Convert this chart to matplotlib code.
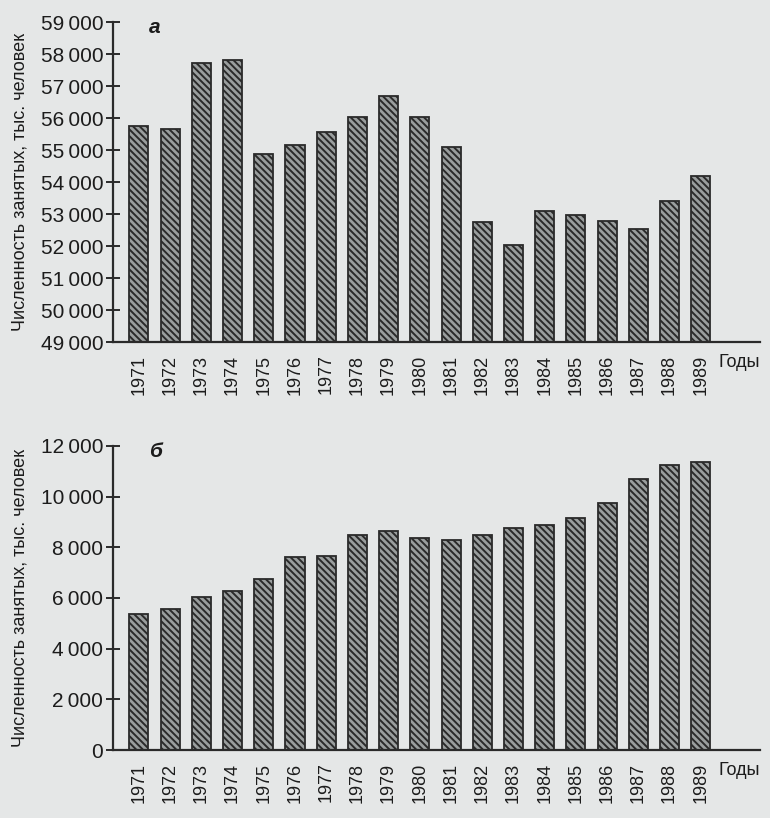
import numpy as np
import matplotlib.pyplot as plt

# data
years = list(range(1971, 1990))
employed_a = [55750, 55650, 57710, 57800, 54880, 55150, 55550, 56020, 56680, 56020,
              55100, 52750, 52040, 53090, 52970, 52770, 52530, 53400, 54180]
employed_b = [5370, 5570, 6040, 6280, 6760, 7610, 7660, 8490, 8650, 8370,
              8290, 8490, 8760, 8880, 9160, 9760, 10700, 11260, 11360]
yticks_a = list(range(49000, 59001, 1000))
yticks_b = list(range(0, 12001, 2000))

ylabel = "Численность занятых, тыс. человек"

plt.rcParams['font.family'] = ['Liberation Sans', 'DejaVu Sans']
plt.rcParams['hatch.linewidth'] = 1.4

bg = '#e5e7e7'
dark = '#2a2a2a'
txt = '#1c1c1c'

fig = plt.figure(figsize=(7.7, 8.18), dpi=100, facecolor=bg)
ax1 = fig.add_axes([0.1468, 0.5819, 0.8402, 0.3912])
ax2 = fig.add_axes([0.1468, 0.0831, 0.8402, 0.3717])


def fmt(v):
    return f"{v:,}".replace(",", "\u2009")


def draw_panel(ax, values, yticks, letter):
    ax.set_facecolor(bg)
    x = np.arange(len(years))
    # bars start at zero, the y limits cut them at the axis
    ax.bar(x, values, width=0.61, color='#9a9e9e', edgecolor=dark,
           linewidth=1.3, hatch='\\\\\\\\\\')
    ax.set_ylim(yticks[0], yticks[-1])
    ax.set_xlim(-0.83, 19.9)
    ax.set_yticks(yticks)
    ax.set_yticklabels([fmt(v) for v in yticks], fontsize=15, color=txt)
    ax.set_xticks(x)
    ax.set_xticklabels([str(y) for y in years], rotation=90, fontsize=13,
                       color=txt)
    ax.tick_params(axis='x', length=0, pad=9)
    ax.tick_params(axis='y', direction='inout', length=10, width=1.4,
                   color=dark, pad=2)
    for s in ('top', 'right'):
        ax.spines[s].set_visible(False)
    for s in ('left', 'bottom'):
        ax.spines[s].set_color(dark)
        ax.spines[s].set_linewidth(1.6)
    ax.set_ylabel(ylabel, fontsize=13, color=txt)
    ax.yaxis.set_label_coords(-0.130, 0.5)
    ax.annotate("Годы", xy=(1.0, 0), xycoords='axes fraction',
                xytext=(0, -15), textcoords='offset points',
                ha='right', va='center', fontsize=13, color=txt)
    ax.text(0.065, 0.982, letter, transform=ax.transAxes, ha='center', va='center',
            fontsize=15, fontweight='bold', fontstyle='italic', color=txt)


draw_panel(ax1, employed_a, yticks_a, "а")
draw_panel(ax2, employed_b, yticks_b, "б")

fig.savefig("out.png", dpi=100, facecolor=bg)
